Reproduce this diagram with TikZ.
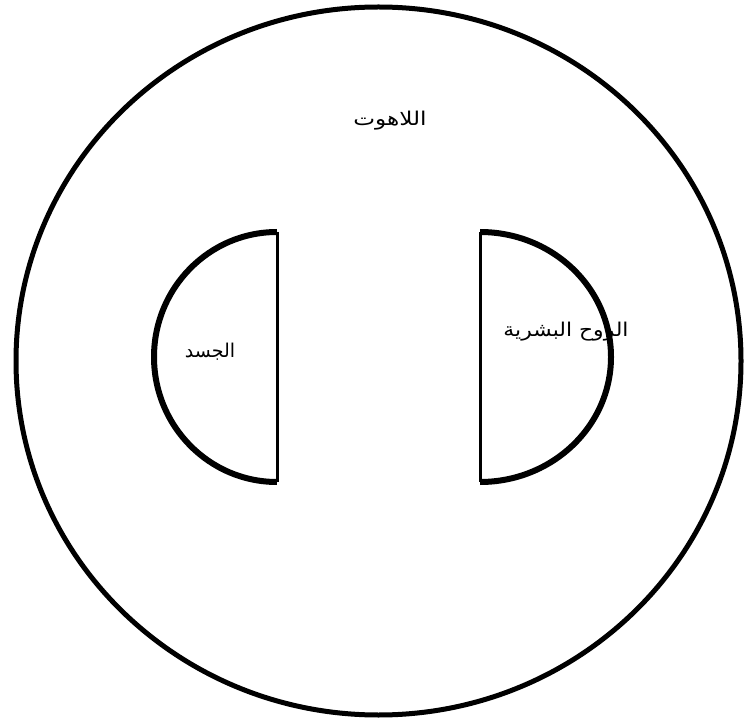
\documentclass[tikz,border=0pt]{standalone}
\usepackage{fontspec}
\usepackage{graphicx}
\setmainfont{Liberation Sans}
\newfontfamily\arabicfont[Script=Arabic]{DejaVu Sans}
\TeXXeTstate=1
\begin{document}
\begin{tikzpicture}[x=1pt,y=1pt,
  outer/.style={line width=5pt},
  arcline/.style={line width=6pt},
  flatline/.style={line width=3pt},
  lbl/.style={font=\arabicfont\fontsize{19}{22}\selectfont, inner sep=0pt}]
\useasboundingbox (0,0) rectangle (744,721);
\fill[white] (0,0) rectangle (744,721);
% outer circle
\draw[outer] (378.5,360) ellipse [x radius=362.5, y radius=354];
% left half-disk
\coordinate (lt) at (277,489);
\coordinate (lb) at (277,239);
\draw[arcline] (lt) arc[start angle=90, end angle=270, x radius=123, y radius=125];
\draw[flatline] (lt) -- (lb);
% right half-disk
\coordinate (rt) at (480,489);
\coordinate (rb) at (480,239);
\draw[arcline] (rt) arc[start angle=90, end angle=-90, x radius=131, y radius=125];
\draw[flatline] (rt) -- (rb);
% labels
\node[lbl] (god) at (390,600) {\scalebox{1.22}[1]{\beginR اللاهوت\endR}};
\node[lbl] (body) at (210,369) {\beginR الجسد\endR};
\node[lbl] (soul) at (566,389) {\scalebox{1.15}[1]{\beginR الروح البشرية\endR}};
\end{tikzpicture}
\end{document}
